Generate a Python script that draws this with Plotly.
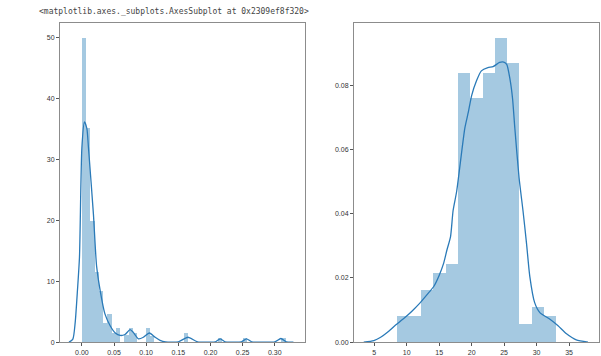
import numpy as np
import plotly.graph_objects as go

# Left panel: histogram densities (equal-width bins starting at 0)
left_bin_start = 0.0
left_bin_width = 0.0066
left_heights = [
    50.0, 35.3, 20.0, 11.6, 8.4, 3.2, 4.6, 1.6, 2.3, 0.0,
    1.3, 2.3, 1.5, 0.0, 0.0, 2.3, 1.0, 0.0, 0.0, 0.0,
    0.0, 0.0, 0.0, 0.0, 1.6, 0.0, 0.0, 0.0, 0.0, 0.0,
    0.0, 0.0, 0.8, 0.0, 0.0, 0.0, 0.0, 0.0, 0.8, 0.0,
    0.0, 0.0, 0.0, 0.0, 0.0, 0.0, 0.0, 0.8,
]

# Left panel: kernel density estimate
left_kde_x = [-0.020, -0.014, -0.0104, -0.0068, -0.0037, 0.0, 0.004, 0.0078,
              0.0103, 0.018, 0.023, 0.031, 0.036, 0.044, 0.052, 0.0595,
              0.067, 0.075, 0.080, 0.088, 0.0957, 0.105, 0.114, 0.1216,
              0.130, 0.150, 0.165, 0.180, 0.200, 0.2075, 0.215, 0.2225,
              0.235, 0.248, 0.256, 0.264, 0.280, 0.300, 0.3095, 0.318, 0.329]
left_kde_y = [0.0, 0.5, 3.2, 8.6, 14.0, 31.9, 36.2, 35.1,
              31.9, 21.0, 12.4, 7.0, 4.6, 2.7, 1.5, 1.1,
              1.25, 2.05, 1.6, 0.55, 0.8, 1.5, 0.8, 0.3,
              0.05, 0.05, 0.8, 0.05, 0.0, 0.05, 0.55, 0.05,
              0.0, 0.05, 0.55, 0.05, 0.0, 0.05, 0.6, 0.05, 0.0]

# Right panel: histogram densities
right_bin_start = 8.45
right_bin_width = 1.89
right_heights = [0.0082, 0.0082, 0.0162, 0.0217, 0.0244, 0.0840, 0.0760,
                 0.0840, 0.0947, 0.0869, 0.0056, 0.0110, 0.0082]

# Right panel: kernel density estimate
right_kde_x = [3.4, 4.95, 6.0, 7.0, 8.3, 9.6, 10.85, 12.1, 13.4, 14.2, 14.95,
               15.7, 16.2, 16.75, 17.15, 17.7, 18.95, 19.5, 20.0, 20.75, 21.5,
               22.5, 23.3, 24.3, 24.95, 25.4, 25.9, 26.3, 26.65, 27.3, 27.9,
               28.45, 28.95, 29.7, 30.5, 32.0, 33.3, 34.6, 36.1, 37.9]
right_kde_y = [0.0, 0.0005, 0.0015, 0.003, 0.0053, 0.0074, 0.0097, 0.0123,
               0.0154, 0.0174, 0.0205, 0.0246, 0.0287, 0.0328, 0.041, 0.047,
               0.0666, 0.0717, 0.0768, 0.0814, 0.0845, 0.0855, 0.0858, 0.0871,
               0.0872, 0.0865, 0.0819, 0.0758, 0.0666, 0.0512, 0.041, 0.0307,
               0.0205, 0.0123, 0.0092, 0.0072, 0.0051, 0.0026, 0.0007, 0.0]

left_x_ticks = [0.0, 0.05, 0.10, 0.15, 0.20, 0.25, 0.30]
left_y_ticks = [0, 10, 20, 30, 40, 50]
right_x_ticks = [5, 10, 15, 20, 25, 30, 35]
right_y_ticks = [0.0, 0.02, 0.04, 0.06, 0.08]

caption = "<matplotlib.axes._subplots.AxesSubplot at 0x2309ef8f320>"

BAR = "rgba(31,119,180,0.4)"
LINE = "#2a7ab8"
FRAME = "#8c8c8c"
W, H = 601, 356


def centers(start, width, n):
    return start + width * (np.arange(n) + 0.5)


fig = go.Figure()

fig.add_trace(go.Bar(
    x=centers(left_bin_start, left_bin_width, len(left_heights)),
    y=left_heights, width=left_bin_width,
    marker=dict(color=BAR, line=dict(width=0)),
    xaxis="x", yaxis="y", showlegend=False, hoverinfo="skip"))
fig.add_trace(go.Scatter(
    x=left_kde_x, y=left_kde_y, mode="lines",
    line=dict(color=LINE, width=1.3, shape="spline", smoothing=0.6),
    xaxis="x", yaxis="y", showlegend=False))

fig.add_trace(go.Bar(
    x=centers(right_bin_start, right_bin_width, len(right_heights)),
    y=right_heights, width=right_bin_width,
    marker=dict(color=BAR, line=dict(width=0)),
    xaxis="x2", yaxis="y2", showlegend=False, hoverinfo="skip"))
fig.add_trace(go.Scatter(
    x=right_kde_x, y=right_kde_y, mode="lines",
    line=dict(color=LINE, width=1.3, shape="spline", smoothing=0.6),
    xaxis="x2", yaxis="y2", showlegend=False))

tick_font = dict(family="Liberation Sans Narrow, Liberation Sans, sans-serif",
                 size=7, color="#333")
axis_common = dict(showline=True, mirror=True, linecolor=FRAME, linewidth=1,
                   showgrid=False, zeroline=False, ticks="outside", ticklen=3,
                   tickwidth=1, tickcolor="#555", tickfont=tick_font)

ydom = [(H - 347) / H, (H - 23) / H]

fig.update_layout(
    width=W, height=H,
    margin=dict(l=0, r=0, t=0, b=0),
    paper_bgcolor="white", plot_bgcolor="white",
    bargap=0, barmode="overlay",
    xaxis=dict(domain=[60 / W, 305 / W], range=[-0.034, 0.347],
               tickvals=left_x_ticks, tickformat=".2f", anchor="y", **axis_common),
    yaxis=dict(domain=ydom, range=[0, 52.5], tickvals=left_y_ticks,
               anchor="x", **axis_common),
    xaxis2=dict(domain=[354 / W, 599 / W], range=[1.9, 39.6],
                tickvals=right_x_ticks, anchor="y2", **axis_common),
    yaxis2=dict(domain=ydom, range=[0, 0.0995], tickvals=right_y_ticks,
                tickformat=".2f", anchor="x2", **axis_common),
    annotations=[dict(
        text=caption.replace("<", "&lt;").replace(">", "&gt;"),
        x=37 / W, y=(H - 12) / H, xref="paper", yref="paper",
        xanchor="left", yanchor="middle", showarrow=False,
        font=dict(family="DejaVu Sans Mono, monospace", size=8, color="#444"))],
)

fig.write_html("out.html")
